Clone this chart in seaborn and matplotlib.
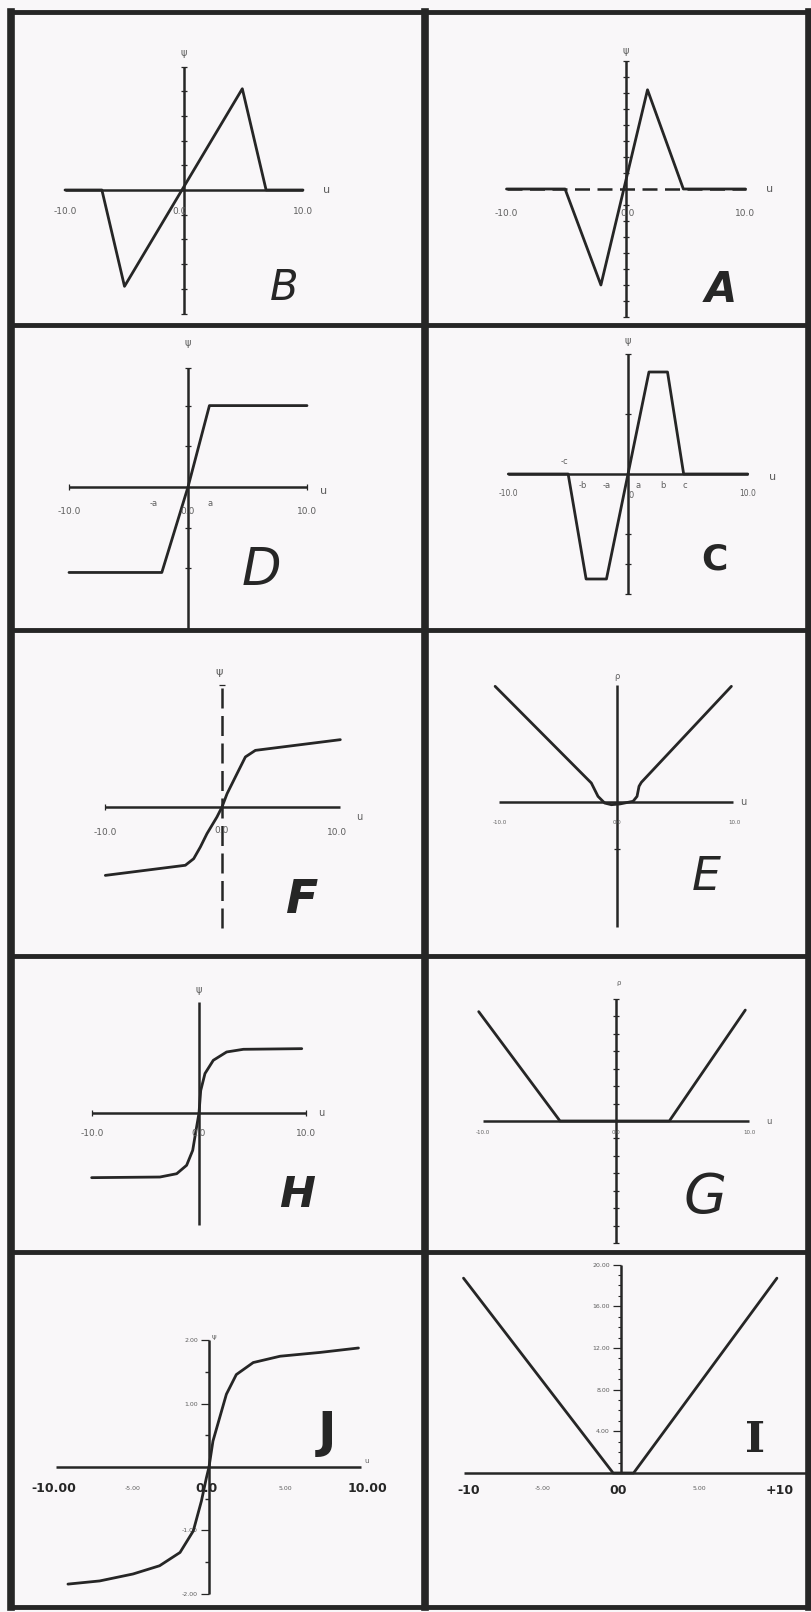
import matplotlib
matplotlib.use("Agg")
import matplotlib.pyplot as plt
import seaborn as sns
from matplotlib.lines import Line2D
from matplotlib.transforms import offset_copy

# ---- curves (u -> psi / rho) ----
b_u = [-10, -6.9, -5.0, 4.9, 6.9, 10]
b_psi = [0, 0, -3.9, 4.1, 0, 0]

a_u = [-10, -5.1, -2.1, 1.8, 4.8, 10]
a_psi = [0, 0, -6.0, 6.2, 0, 0]

d_u = [-10, -2.2, 0, 1.8, 10]
d_psi = [-2.1, -2.1, 0, 2.0, 2.0]

c_u = [-10, -5.0, -3.5, -1.8, 1.75, 3.3, 4.65, 10]
c_psi = [0, 0, -3.5, -3.5, 3.4, 3.4, 0, 0]

f_u = [-9.93, -3.12, -2.41, -1.84, -1.28, -0.43, 0, 0.43, 1.28, 1.99, 2.84, 10.07]
f_psi = [-5.82, -4.96, -4.40, -3.40, -2.27, -0.85, 0, 1.13, 2.84, 4.26, 4.82, 5.73]

e_u = [-10.4, -2.19, -1.62, -1.05, -0.48, 0.23, 1.37, 1.71, 1.88, 2.08, 9.76]
e_rho = [9.87, 1.62, 0.48, -0.09, -0.23, -0.17, 0.06, 0.48, 1.34, 1.68, 9.87]

h_u = [-10.06, -3.66, -2.09, -1.16, -0.59, -0.28, 0, 0.16, 0.56, 1.34, 2.59, 4.16, 9.63]
h_psi = [-6.06, -6.0, -5.69, -4.9, -3.5, -1.63, 0, 2.1, 3.7, 4.94, 5.72, 5.97, 6.03]

g_u = [-10.3, -4.2, 4.0, 9.7]
g_rho = [6.26, 0, 0, 6.35]

j_u = [-9.25, -7.17, -4.98, -3.24, -1.9, -1.03, -0.5, -0.17, 0, 0.26, 0.7, 1.14,
       1.79, 2.9, 4.66, 7.28, 9.8]
j_psi = [-1.85, -1.8, -1.69, -1.56, -1.35, -1.01, -0.54, -0.17, 0, 0.41, 0.78, 1.15,
         1.46, 1.65, 1.75, 1.81, 1.88]

i_u = [-10.0, -0.5, 0.8, 9.9]
i_rho = [18.7, 0, 0, 18.7]

# tick positions / labels
u_ticks = [-10, 0, 10]
u_labels = ["-10.0", "0.0", "10.0"]
b_yticks = [-5, -4, -3, -2, -1, 1, 2, 3, 4, 5]
a_yticks = [-8, -7, -6, -5, -4, -3, -2, -1, 1, 2, 3, 4, 5, 6, 7, 8]
d_yticks = [-2, -1, 1, 2, 2.92]
d_marks = [-2.9, 1.85]
d_mark_labels = ["-a", "a"]
c_yticks = [-4, -3, -2, 2, 4]
c_marks = [-3.76, -1.75, 0.84, 2.92, 4.76]
c_mark_labels = ["-b", "-a", "a", "b", "c"]
e_yticks = [-4]
g_yticks = [-7, -6, -5, -4, -3, -2, -1, 1, 2, 3, 4, 5, 6, 7]
j_yticks = [-2, -1, 1, 2]
j_ylabels = ["-2.00", "-1.00", "1.00", "2.00"]
j_yminor = [-1.5, -0.5, 0.5, 1.5]
j_xticks = [-10, -5, 0, 5, 10]
j_xlabels = ["-10.00", "-5.00", "0.0", "5.00", "10.00"]
i_yticks = [4, 8, 12, 16, 20]
i_ylabels = ["4.00", "8.00", "12.00", "16.00", "20.00"]
i_yminor = [1, 2, 3, 5, 6, 7, 9, 10, 11, 13, 14, 15, 17, 18, 19]
i_xticks = [-10, -5, 0, 5, 10]
i_xlabels = ["-10", "-5.00", "00", "5.00", "+10"]

sns.set_style("white")
plt.rcParams["font.family"] = ["DejaVu Sans"]
plt.rcParams["xtick.bottom"] = True
plt.rcParams["ytick.left"] = True

W, H = 811, 1612
INK = "#262626"
PAPER = "#f9f7f9"
GREY = "#5e5e5e"

fig = plt.figure(figsize=(W / 100, H / 100), dpi=100, facecolor=PAPER)

col_x = [11, 425, 809]
row_y = [12, 325, 630, 956, 1252, 1607]


def panel(col, row, ox, oy, sx, sy, xb, yb):
    x0, x1 = col_x[col], col_x[col + 1]
    y0, y1 = row_y[row], row_y[row + 1]
    ax = fig.add_axes([x0 / W, 1 - y1 / H, (x1 - x0) / W, (y1 - y0) / H])
    ax.set_facecolor(PAPER)
    ax.spines[["top", "right"]].set_visible(False)
    for side, b in (("bottom", xb), ("left", yb)):
        sp = ax.spines[side]
        sp.set_position(("data", 0))
        sp.set_bounds(*b)
        sp.set_color(INK)
        sp.set_linewidth(1.8)
        sp.set_capstyle("butt")
    ax.set_xticks([])
    ax.set_yticks([])
    ax.tick_params(which="both", bottom=True, left=True, direction="inout",
                   length=4.5, width=0.9, color=INK, labelsize=5, labelcolor=GREY)
    ax.lims = ((x0 - ox) / sx, (x1 - ox) / sx), ((oy - y1) / sy, (oy - y0) / sy)
    return ax


def curve(ax, u, v):
    sns.lineplot(x=u, y=v, ax=ax, color=INK, linewidth=2.0,
                 estimator=None, sort=False)
    ax.set_xlim(*ax.lims[0])
    ax.set_ylim(*ax.lims[1])


def note(ax, x, y, s, dx=0, dy=0, size=6.5, color=GREY, **kw):
    tr = offset_copy(ax.transData, fig=fig, x=dx, y=dy, units="dots")
    ax.text(x, y, s, transform=tr, ha="center", va="center",
            fontsize=size, color=color, clip_on=False, **kw)


def u_axis_labels(ax, dy, size=6.5, dx0=0):
    for x, s in zip(u_ticks, u_labels):
        note(ax, x, 0, s, dx=dx0 if x == 0 else 0, dy=-dy, size=size)


def letter(x, y, s, size, **kw):
    fig.text(x / W, 1 - y / H, s, ha="center", va="baseline",
             fontsize=size, color=INK, **kw)


# ---- B ----
ax = panel(0, 0, 184, 190, 11.9, 24.7, (-10, 10), (-5, 5))
ax.set_yticks(b_yticks, [""] * len(b_yticks))
curve(ax, b_u, b_psi)
u_axis_labels(ax, 22, dx0=-4)
note(ax, 0, 5, "ψ", dy=13, size=7)
note(ax, 10, 0, "u", dx=24, size=8)
letter(284, 300, "B", 30, style="italic")

# ---- A ----
ax = panel(1, 0, 626, 189, 11.95, 16, (-10, 10), (-8, 8))
ax.spines["bottom"].set_linestyle((0, (6, 3)))
ax.set_yticks(a_yticks, [""] * len(a_yticks))
ax.tick_params(axis="y", length=4)
curve(ax, a_u, a_psi)
u_axis_labels(ax, 24, dx0=2)
note(ax, 0, 8, "ψ", dy=10, size=7)
note(ax, 10, 0, "u", dx=24, size=8)
letter(721, 302, "A", 30, style="italic", weight="bold")

# ---- D ----
ax = panel(0, 1, 188, 487, 11.9, 40.7, (-10, 10), (-3.6, 2.92))
ax.set_xticks([-10, 10], ["", ""])
ax.set_yticks(d_yticks, [""] * len(d_yticks))
curve(ax, d_u, d_psi)
u_axis_labels(ax, 25)
for x, s in zip(d_marks, d_mark_labels):
    note(ax, x, 0, s, dy=-16, size=6)
note(ax, 0, 2.92, "ψ", dy=25, size=7)
note(ax, 10, 0, "u", dx=17, dy=-4, size=8)
letter(261, 585, "D", 37, style="italic")

# ---- C ----
ax = panel(1, 1, 628, 474, 11.97, 30, (-10, 10), (-4, 4))
ax.set_yticks(c_yticks, [""] * len(c_yticks))
curve(ax, c_u, c_psi)
note(ax, -10, 0, "-10.0", dy=-19, size=5.5)
note(ax, 10, 0, "10.0", dy=-19, size=5.5)
note(ax, -5.3, 0, "-c", dy=12, size=6)
for x, s in zip(c_marks, c_mark_labels):
    note(ax, x, 0, s, dy=-12, size=6)
note(ax, 0, 0, "0", dx=3, dy=-21, size=6)
note(ax, 0, 4, "ψ", dy=13, size=7)
note(ax, 10, 0, "u", dx=25, dy=-3, size=8)
letter(714, 570, "C", 26, weight="bold")

# ---- F ----
ax = panel(0, 2, 222, 807, 11.75, 11.75, (-10, 10), (-10.3, 10.4))
ax.spines["left"].set_linestyle((0, (8, 3)))
ax.set_xticks([-10], [""])
ax.set_yticks([10.4], [""])
curve(ax, f_u, f_psi)
note(ax, -10, 0, "-10.0", dx=1, dy=-25, size=6.5)
note(ax, 0, 0, "0.0", dy=-23, size=6.5)
note(ax, 9.8, 0, "10.0", dy=-25, size=6.5)
note(ax, 10, 0, "u", dx=20, dy=-10, size=7)
note(ax, 0, 10.4, "ψ", dx=-3, dy=13, size=8)
letter(302, 913, "F", 34, style="italic", weight="bold")

# ---- E ----
ax = panel(1, 2, 617, 802, 11.72, 11.72, (-10.07, 9.9), (-10.7, 10))
ax.set_yticks(e_yticks, [""])
curve(ax, e_u, e_rho)
u_axis_labels(ax, 20, size=4)
note(ax, 0, 10, "ρ", dy=8, size=6)
note(ax, 9.9, 0, "u", dx=10, size=7)
letter(706, 890, "E", 33, style="italic")

# ---- H ----
ax = panel(0, 3, 199, 1113, 10.67, 10.67, (-10, 10), (-10.5, 10.4))
ax.set_xticks([-10, 10], ["", ""])
curve(ax, h_u, h_psi)
u_axis_labels(ax, 20)
note(ax, 0, 10.4, "ψ", dy=12, size=7)
note(ax, 10, 0, "u", dx=16, size=7)
letter(297, 1207, "H", 31, style="italic", weight="bold")

# ---- G ----
ax = panel(1, 3, 616, 1121, 13.33, 17.47, (-10, 10), (-7, 7))
ax.set_yticks(g_yticks, [""] * len(g_yticks))
ax.tick_params(axis="y", length=4)
curve(ax, g_u, g_rho)
u_axis_labels(ax, 11, size=4)
note(ax, 0, 7, "ρ", dx=3, dy=16, size=5)
note(ax, 10, 0, "u", dx=20, size=6)
letter(705, 1213, "G", 40, style="italic")

# ---- J ----
ax = panel(0, 4, 209, 1467, 15.25, 63.3, (-10, 10), (-2, 2))
ax.set_yticks(j_yticks, j_ylabels)
ax.set_yticks(j_yminor, minor=True)
ax.tick_params(axis="y", which="major", direction="out", length=6, pad=2, labelsize=4.5)
ax.tick_params(axis="y", which="minor", direction="out", length=3, width=1.0, color=INK)
curve(ax, j_u, j_psi)
for x, s in zip(j_xticks, j_xlabels):
    if s in ("-5.00", "5.00"):
        note(ax, x, 0, s, dy=-21, size=4.5)
    else:
        note(ax, x, 0, s, dx=(-3 if x < 0 else 6 if x > 0 else -2), dy=-21,
             size=9, weight="bold", color=INK)
note(ax, 0, 2, "ψ", dx=5, dy=3, size=5)
note(ax, 10, 0, "u", dx=5, dy=6, size=5)
letter(327, 1447, "J", 36, weight="bold")

# ---- I ----
ax = panel(1, 4, 621, 1473, 15.75, 10.42, (-10, 12.5), (0, 20))
ax.set_yticks(i_yticks, i_ylabels)
ax.set_yticks(i_yminor, minor=True)
ax.tick_params(axis="y", which="major", direction="out", length=6, pad=2, labelsize=4.5)
ax.tick_params(axis="y", which="minor", direction="out", length=2.5, width=0.8, color=INK)
curve(ax, i_u, i_rho)
for x, s in zip(i_xticks, i_xlabels):
    if s in ("-5.00", "5.00"):
        note(ax, x, 0, s, dy=-16, size=4.5)
    else:
        note(ax, x, 0, s, dx=(5 if x < 0 else 1 if x > 0 else -3), dy=-17,
             size=9, weight="bold", color=INK)
letter(755, 1452, "I", 31, weight="bold", family="DejaVu Serif")

# ---- frame of the sheet ----
for x in col_x:
    fig.add_artist(Line2D([x / W, x / W], [1 - row_y[0] / H, 1 - row_y[-1] / H],
                          color=INK, lw=5.5, zorder=20, solid_capstyle="projecting"))
for y in row_y:
    fig.add_artist(Line2D([col_x[0] / W, col_x[-1] / W], [1 - y / H, 1 - y / H],
                          color=INK, lw=3.5, zorder=20, solid_capstyle="projecting"))

fig.savefig("out.png", dpi=100, facecolor=PAPER)
